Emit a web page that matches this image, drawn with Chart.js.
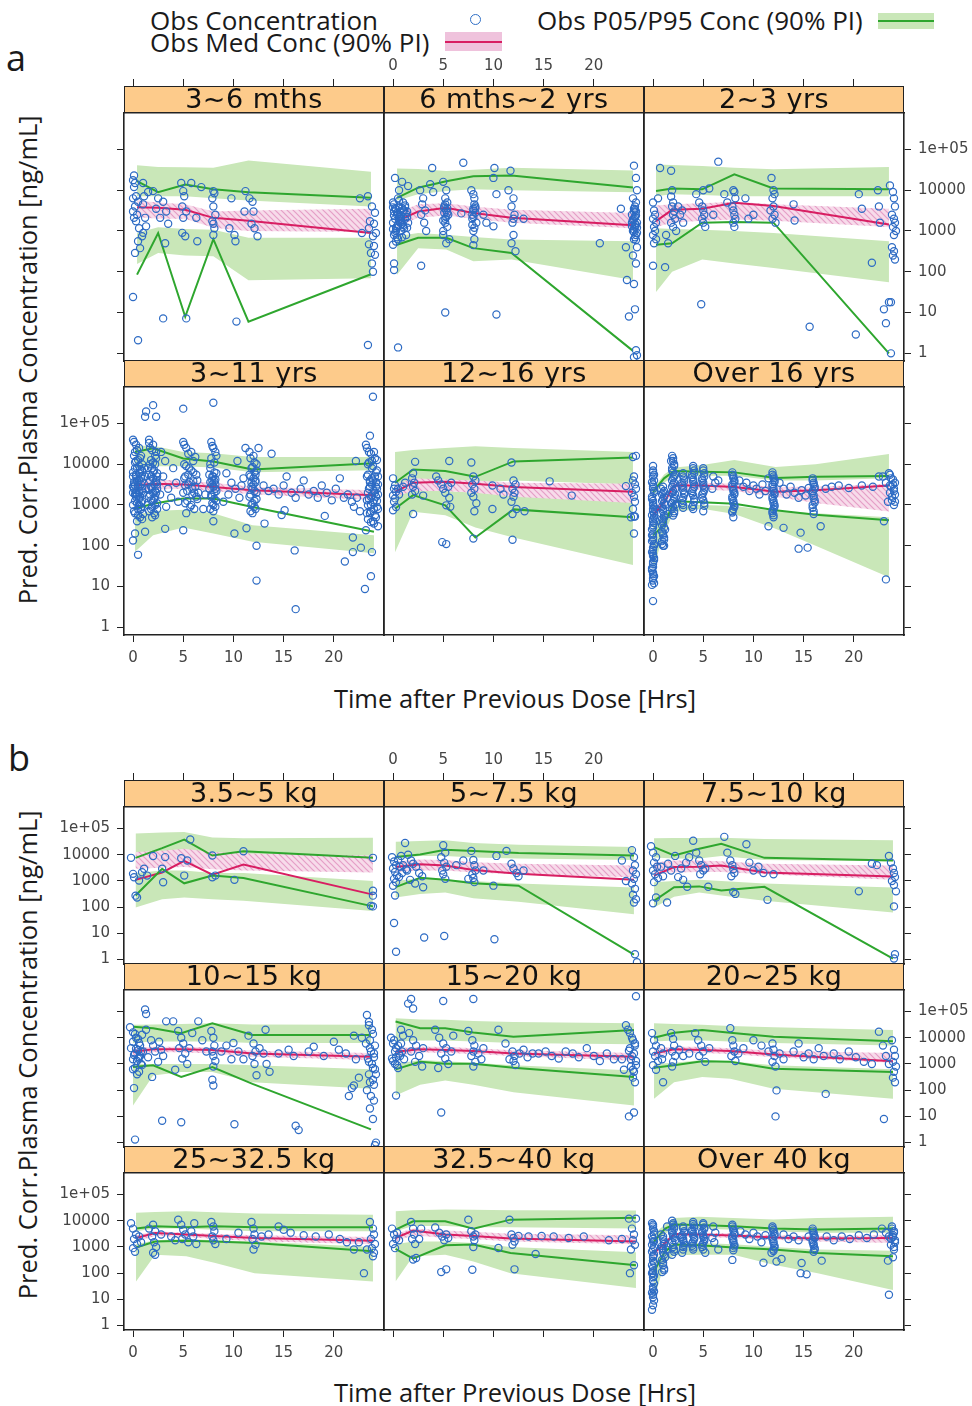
<!DOCTYPE html>
<html>
<head>
<meta charset="utf-8">
<script src="https://cdn.jsdelivr.net/npm/chart.js@4.4.1/dist/chart.umd.min.js"></script>
<style>
  body { margin: 0; width: 972px; height: 1406px; position: relative; overflow: hidden; background: #fff; }
  canvas { position: absolute; }
  .strip { position: absolute; width: 260px; height: 27px; box-sizing: border-box; border: 1.5px solid #222;
           background: #fdcb8b; text-align: center; font: 27px "DejaVu Sans"; letter-spacing: 0.5px; line-height: 24px;
           color: #111; z-index: 2; white-space: nowrap; overflow: visible; }
  .lg { position: absolute; font: 26px "Open Sans"; line-height: 1; color: #1a1a1a; white-space: nowrap; }
  .ttl { position: absolute; font: 25.5px "Open Sans"; line-height: 1; color: #1a1a1a; text-align: center; white-space: nowrap; }
  .box { position: absolute; }
</style>
</head>
<body>

<div class="lg" style="left:150px;top:7px">Obs Concentration</div>
<div class="lg" style="left:150px;top:29px">Obs Med Conc (90% PI)</div>
<div class="lg" style="left:537px;top:7px">Obs P05/P95 Conc (90% PI)</div>
<div class="box" style="left:470px;top:14px;width:9px;height:9px;border:1.5px solid #2f6fc6;border-radius:50%"></div>
<div class="box" style="left:878px;top:13px;width:56px;height:16px;background:#c9e7b8"></div>
<div class="box" style="left:878px;top:20px;width:56px;height:2px;background:#2ea62e"></div>
<div class="box" style="left:445px;top:32px;width:57px;height:19px;background:#efc2dc"></div>
<div class="box" style="left:445px;top:41px;width:57px;height:2px;background:#d81e62"></div>

<div class="ttl" style="left:6px;top:40px;font-size:36px">a</div>
<div class="ttl" style="left:8px;top:740px;font-size:36px">b</div>
<div class="ttl" style="left:0;width:1030px;top:686px">Time after Previous Dose [Hrs]</div>
<div class="ttl" style="left:0;width:1030px;top:1380px">Time after Previous Dose [Hrs]</div>
<div class="ttl" style="left:-272px;top:347px;width:600px;transform:rotate(-90deg)">Pred. Corr.Plasma Concentration [ng/mL]</div>
<div class="ttl" style="left:-272px;top:1042px;width:600px;transform:rotate(-90deg)">Pred. Corr.Plasma Concentration [ng/mL]</div>

<script>
// panels: a = age groups (2x3), b = weight groups (3x3)
const panelLabels = ['3~6 mths', '6 mths~2 yrs', '2~3 yrs', '3~11 yrs', '12~16 yrs', 'Over 16 yrs',
  '3.5~5 kg', '5~7.5 kg', '7.5~10 kg', '10~15 kg', '15~20 kg', '20~25 kg', '25~32.5 kg', '32.5~40 kg', 'Over 40 kg'];
const tickHours = [0, 5, 10, 15, 20];
const tickConc = [1, 10, 100, 1000, 10000, 100000];

// time bins for the percentile lines and bands
const binTimes = [
  [0.4, 2.5, 5.2, 8, 11.5, 23.7],
  [0.4, 2.5, 5.3, 8, 11.8, 23.9],
  [0.3, 1.9, 4.9, 8.1, 12, 23.5],
  [0.2, 2, 5, 8, 11.9, 24],
  [0.2, 2, 5.2, 8.2, 12, 23.9],
  [0, 1.1, 2.1, 4.9, 8.1, 12.2, 16.2, 23.5],
  [0.25, 2.9, 5.1, 7.9, 11, 23.9],
  [0.25, 2.7, 5.2, 8, 12.5, 24],
  [0.1, 2.1, 4.6, 6.8, 11.1, 23.9],
  [0, 2, 4.8, 7.9, 11.9, 23.7],
  [0.25, 2.7, 5.2, 8, 12, 24],
  [0.1, 2.1, 4.9, 7.7, 12, 23.9],
  [0.3, 2.2, 5.3, 8.1, 12.1, 23.9],
  [0.25, 2, 5.2, 8, 11.7, 24.2],
  [0.1, 1.2, 2.1, 4.6, 8, 12, 16.4, 23.9]
];

// observed percentiles (ng/mL)
const p95 = [
  [16600, 8900, 13800, 10500, 8900, 6500],
  [6500, 11500, 16600, 21900, 22900, 11700],
  [9500, 11000, 10500, 24500, 11000, 10500],
  [20000, 24500, 13800, 11700, 7400, 10500],
  [3500, 7400, 6800, 4900, 11700, 14500],
  [2100, 4500, 6800, 6500, 6300, 4600, 4900, 5100],
  [7600, 17800, 38000, 9300, 13500, 7600],
  [8100, 10200, 15500, 13800, 11500, 9300],
  [19500, 9300, 17000, 26300, 7600, 6000],
  [26300, 22900, 14800, 35500, 12600, 12600],
  [41700, 22900, 22900, 15800, 11000, 19500],
  [10000, 15500, 19500, 15500, 11000, 7400],
  [5000, 6200, 5600, 6200, 5600, 5600],
  [4600, 9500, 9500, 5000, 11000, 12900],
  [1600, 5000, 7100, 6800, 6200, 5000, 4600, 5000]
];
const med = [
  [3800, 3700, 3300, 2100, 1780, 890],
  [1740, 3000, 3700, 2750, 2100, 1380],
  [1740, 3300, 3500, 4900, 4100, 1450],
  [3000, 3300, 3200, 2750, 2300, 1740],
  [2100, 3500, 3700, 3300, 2750, 2100],
  [560, 1170, 3000, 3000, 2750, 2100, 2300, 3000],
  [1100, 2100, 5800, 1740, 4200, 300],
  [3400, 4300, 3900, 2600, 1860, 1100],
  [1600, 3400, 3500, 3900, 2100, 1480],
  [2900, 3600, 3600, 3400, 2500, 1860],
  [2900, 3600, 3400, 3100, 2500, 1860],
  [2500, 3600, 3400, 3100, 2300, 1260],
  [2200, 3400, 3000, 2600, 2200, 1740],
  [2200, 4200, 3000, 2600, 2100, 1600],
  [590, 1400, 3100, 3000, 2750, 2300, 2100, 2200]
];
const p05 = [
  [85, 890, 7.9, 630, 6, 87],
  [460, 680, 680, 380, 290, 1.15],
  [460, 500, 1600, 1660, 1600, 1],
  [810, 1070, 1450, 1450, 890, 220],
  [810, 1740, 980, 160, 780, 500],
  [180, 320, 1230, 1170, 1070, 740, 580, 420],
  [280, 2900, 810, 1600, 1300, 107],
  [580, 1320, 1100, 810, 660, 1.55],
  [174, 580, 620, 430, 600, 1.1],
  [760, 890, 320, 760, 174, 3.2],
  [620, 1200, 1020, 1020, 710, 320],
  [710, 890, 1260, 1200, 660, 490],
  [950, 1600, 1740, 1600, 1400, 680],
  [850, 355, 1150, 1230, 590, 200],
  [117, 680, 1230, 1150, 950, 800, 590, 440]
];

// 90% prediction intervals of each percentile
const p95Lo = [
  [7100, 7100, 7100, 6300, 5600, 4000],
  [5600, 7900, 9500, 10500, 10000, 8900],
  [7100, 7900, 7600, 7100, 7100, 7100],
  [7900, 8900, 8900, 8300, 6300, 7100],
  [3200, 4000, 4000, 3500, 4000, 3200],
  [1600, 3500, 5000, 5200, 5200, 4000, 4000, 4500],
  [3200, 4000, 4000, 4000, 3500, 2500],
  [7100, 8900, 8900, 7900, 7100, 6300],
  [7900, 7100, 7100, 8900, 6300, 5600],
  [6300, 7100, 7100, 7100, 6300, 6300],
  [7100, 7900, 7900, 7100, 6300, 5600],
  [7100, 7900, 7900, 7100, 6300, 5000],
  [4000, 5000, 5000, 4500, 4000, 4000],
  [4000, 6300, 6300, 5600, 5600, 5000],
  [1260, 3200, 5000, 5000, 4500, 4000, 3500, 3500]
];
const p95Hi = [
  [40700, 37200, 36300, 35500, 53700, 28200],
  [33900, 33100, 29500, 31600, 35500, 30200],
  [42700, 41700, 38900, 35500, 32400, 37200],
  [28200, 28200, 20000, 18600, 15100, 15100],
  [20000, 22400, 25100, 27500, 25100, 20000],
  [2500, 5600, 8300, 9500, 12600, 8500, 10000, 17800],
  [65000, 71000, 74000, 45000, 42000, 44000],
  [31000, 33000, 35500, 28200, 24000, 19500],
  [42000, 43000, 43000, 44000, 40000, 35500],
  [31000, 31600, 33000, 35500, 31600, 31000],
  [55000, 50000, 48000, 43000, 40000, 35500],
  [35500, 33000, 31000, 28200, 25100, 19500],
  [20000, 21400, 22900, 20900, 19000, 17000],
  [22900, 25100, 26900, 26300, 25100, 24500],
  [3200, 7100, 12600, 14100, 12600, 11200, 12600, 14100]
];
const medLo = [
  [2200, 2000, 2000, 1200, 1000, 950],
  [1260, 2100, 2400, 2000, 1600, 1170],
  [1260, 1600, 1780, 1900, 1780, 1260],
  [2100, 2400, 2500, 2200, 1820, 1320],
  [1600, 2200, 2200, 2000, 1600, 1120],
  [450, 890, 2300, 2400, 2200, 1600, 1120, 690],
  [2900, 3200, 3400, 2800, 2500, 2100],
  [2200, 2500, 2500, 2100, 1780, 1380],
  [2000, 2100, 2200, 2200, 1780, 1100],
  [2000, 2800, 2800, 2500, 1900, 1400],
  [2000, 2800, 2600, 2400, 2000, 1320],
  [1780, 2800, 2600, 2400, 1780, 1120],
  [1600, 2600, 2400, 2000, 1660, 1260],
  [1600, 2800, 2200, 2000, 1600, 1260],
  [400, 1000, 2500, 2400, 2200, 1900, 1600, 1400]
];
const medHi = [
  [5600, 5000, 4500, 3000, 3200, 3500],
  [2800, 4500, 4800, 4000, 3300, 2750],
  [4200, 4500, 4800, 5200, 4500, 3500],
  [3800, 4200, 4000, 3500, 2800, 2300],
  [3200, 4500, 4200, 4000, 3500, 3300],
  [710, 1600, 3700, 3500, 3300, 2750, 2800, 3300],
  [12600, 14100, 17000, 12600, 11200, 9300],
  [5600, 6500, 6300, 5200, 4500, 3900],
  [5000, 6000, 6000, 5600, 4500, 3900],
  [4000, 4500, 4500, 4200, 3200, 2600],
  [4000, 4500, 4500, 4000, 3300, 2600],
  [4000, 4500, 4500, 4000, 3200, 2600],
  [2800, 4000, 3500, 3200, 2800, 2400],
  [3200, 5000, 4200, 3800, 3200, 2800],
  [800, 1780, 3500, 3500, 3300, 2800, 2600, 2800]
];
const p05Lo = [
  [155, 290, 250, 240, 62, 69],
  [85, 380, 350, 180, 200, 63],
  [32, 100, 200, 160, 123, 55],
  [71, 180, 280, 200, 126, 66],
  [69, 680, 560, 280, 160, 34],
  [27, 200, 680, 810, 600, 260, 100, 17],
  [98, 200, 235, 200, 174, 72],
  [235, 320, 360, 220, 160, 54],
  [98, 250, 360, 280, 174, 62],
  [26, 360, 490, 490, 200, 112],
  [62, 160, 235, 160, 83, 26],
  [47, 200, 320, 275, 112, 47],
  [48, 500, 440, 250, 100, 48],
  [48, 440, 500, 280, 100, 27],
  [11, 260, 480, 500, 500, 210, 100, 23]
];
const p05Hi = [
  [890, 1230, 1120, 1070, 680, 680],
  [740, 890, 810, 710, 620, 560],
  [1170, 1120, 1070, 1000, 890, 560],
  [560, 710, 760, 630, 320, 180],
  [2000, 2200, 2200, 2000, 1780, 1600],
  [320, 560, 1000, 1000, 950, 710, 630, 500],
  [2000, 2500, 2500, 2000, 2000, 1000],
  [1000, 1260, 1120, 1000, 800, 560],
  [890, 1000, 1120, 1000, 800, 560],
  [1000, 1000, 1000, 1000, 890, 630],
  [1000, 1400, 1260, 1120, 890, 560],
  [1000, 1120, 1400, 1260, 890, 630],
  [1260, 1780, 2000, 1780, 1600, 1000],
  [1260, 1600, 1600, 1400, 1000, 630],
  [250, 890, 1400, 1400, 1260, 1000, 800, 710]
];

// observed concentrations [hours, ng/mL]
const obsA1 = [[0.1,23000],[0,17600],[0.2,15000],[0.1,11900],[0.3,7100],[0,6300],[0.5,5200],[0.2,4000],[0,3000],[0.4,2500],[0.1,2100],[0.3,1740],[0.6,1170],[0.9,740],[0.5,560],[0.7,380],[0.2,290],[0,24],[0.5,2.1],[1,15000],[1.1,7100],[1,4500],[1.2,2100],[1.3,1300],[1,900],[1.5,9000],
  [2,9500],[2.5,6300],[3,5200],[2.3,3500],[3.3,3000],[2.7,2100],[3.5,1500],[3.2,500],[3,7.2],
  [4.8,15000],[5,9500],[5.1,7100],[4.9,4000],[5.3,3000],[5,2100],[4.9,900],[5.2,740],[5.3,7.2],[5.8,15000],[6.3,2100],[6.8,11900],[6.4,560],
  [8,9500],[8.1,8400],[7.9,6300],[8,4000],[8.2,2500],[7.9,1740],[8,1500],[8.1,1170],[8,800],
  [9.8,6300],[9.6,1170],[10.1,800],[10.2,560],[10.3,6],
  [11.2,9500],[11.1,3000],[11.6,6300],[11.9,5200],[12,3000],[11.8,1500],[12.1,1170],[12.4,740],
  [22.6,6300],[23.4,7100],[23.6,1740],[22.8,890],[23.8,4000],[24.1,2800],[24,1500],[23.5,1170],[24.2,890],[23.9,740],[23.5,470],[24,430],[23.7,290],[24.1,260],[23.8,160],[23.9,100],[23.4,1.6]];
const obsA2 = [[0,5000],[0.1,3000],[0.2,2000],[0,1600],[0.3,1200],[0.1,800],[0,460],[0.5,6300],[0.6,4000],[0.4,2500],[0.7,1600],[0.8,1000],[0.5,630],[1,5000],[1.1,3200],[1.2,2000],[1,1260],[1.3,800],[1.4,3000],[1.5,1600],
  [0.2,3600],[0.4,2800],[0.6,2200],[0.8,1800],[1,1400],[0.3,1000],[0.9,700],[0.1,2400],[1.2,3800],[0.7,3000],[0.5,1400],[1.4,2200],[0,1100],[0.4,700],
  [0.1,4500],[0.3,3400],[0.5,2600],[0.7,2000],[0.9,1500],[1.1,1150],[0.2,900],[0.4,1300],[0.6,1800],[0.8,2400],[1,3200],[1.2,4200],[1.4,1200],[0,3800],[0.3,550],[0.6,5500],[1.3,2600],[0.9,3600],
  [0.2,20000],[0.9,16000],[1.5,12600],[0.6,10000],[0.1,160],[0.1,110],[0.5,1.4],[2.8,140],
  [2.7,10000],[3,6300],[2.9,4500],[3.2,3200],[2.8,2500],[3.1,1600],[3.3,1000],[3.7,14000],[4,9000],[3.9,35000],
  [5,16000],[5.3,10000],[5.2,6300],[5.4,5000],[5.1,4000],[5.3,3200],[5.5,2500],[5.2,2000],[5.4,1260],[5,800],[5.6,630],[5.3,500],[5.2,10],[5.1,3600],[5.4,2800],[5.2,1600],[5,1000],
  [5.2,4500],[5.4,3600],[5.1,2800],[5.3,2200],[5,1800],[7,47000],[6.8,2700],
  [7.8,10000],[8,8000],[8.1,6300],[8.2,4000],[8,3200],[7.9,2500],[8.3,1600],[8,1000],[8.1,630],[8,450],[8.2,3600],[8,2200],[7.9,1400],
  [8.1,4500],[8,3500],[8.2,2800],[7.9,2000],[8.1,1200],
  [10.1,35000],[10,20000],[9,2500],[9.3,1600],[10.3,8000],[10,1300],[10.3,9],
  [11.7,30000],[11.5,10000],[12,6300],[11.8,4000],[12.1,2500],[12,2000],[11.9,1600],[12,800],[11.8,500],[12.2,320],[13,2000],
  [20.6,500],[22.7,3500],[23.2,400],[23.3,63],[23.5,8],[24,40000],[24.2,20000],[24.3,10000],[23.9,6300],[24.1,4000],[24.2,3000],[23.8,2500],[24,2000],[24.3,1600],[24.1,1260],[23.9,1000],[24.2,800],[24,630],[24.3,400],[23.9,250],[24.2,160],[24,50],[24.1,12],[24.2,1.2],[24.3,0.9],[24,0.8],
  [24.1,2200],[23.9,1800],[24.2,1400],[24,1100],[24.3,900],[23.8,1300],[24.1,700],[24,3500],[24.2,5000],
  [24,3000],[24.2,2400],[23.9,1900],[24.1,1500],[24.3,1200],[24,950],[23.8,1600],[24.2,600],[24.1,3300]];
const obsA3 = [[0,5000],[0.1,3200],[0.2,2500],[0,2000],[0.3,1600],[0.1,1260],[0.2,1000],[0,800],[0.3,630],[0.1,500],[0,140],[0.5,6300],[0.7,35000],[1.2,130],[1.3,800],[1.5,500],
  [1.8,30000],[1.9,10000],[1.8,7000],[2,5000],[1.9,4000],[2.1,3000],[2,2500],[2.2,2000],[1.8,1600],[2,1260],[2.3,1000],[2.5,4000],[2.7,2500],[2.9,3200],[3,1600],
  [4.3,8000],[4.6,5000],[4.9,4000],[5,3200],[5.1,2500],[4.9,2000],[5,1600],[5.2,1260],[5,10000],[4.8,16],[5.6,11000],[6,2500],[6.5,50000],
  [7.1,8000],[7.4,5000],[8,10000],[8.1,9000],[8.2,6300],[7.9,4000],[8,3200],[8.1,2500],[8.2,2000],[8,1600],[8.1,1260],[9.2,6300],[9.5,2000],[10,2500],
  [11.8,20000],[12,10000],[12.1,8000],[11.9,6300],[12,4000],[11.7,3200],[12.1,2500],[11.9,2000],[12.2,1600],[14,4500],[14.1,1800],[15.6,4.5],
  [20.5,8000],[20.8,3500],[21.8,166],[20.2,2.9],[22.4,10000],[22.5,4000],[22.6,1600],[23,12],[23.2,5.5],[23.5,18],[23.7,18],[23.6,13000],[23.7,1],[23.9,9000],[24,6300],[24.1,4000],[23.8,2500],[24,2000],[24.1,1600],[23.9,1260],[24.2,1000],[24,800],[23.8,400],[24,320],[23.9,250],[24.1,200]];
const obsA4 = [[0,40000],[0.3,30000],[0.6,25000],[0.1,16000],[0.5,12600],[0.9,10000],[0.2,8000],[0.7,6300],[0,5000],[0.4,4000],[0.8,3200],[0.1,2500],[0.6,2000],[0.3,1600],[0.9,1260],[0,1000],[0.5,800],[0.2,630],[0.7,500],[0.4,400],[0.1,3200],[0.8,5000],[0.3,2000],[0.6,1000],
  [0.2,20000],[0.8,16000],[0.4,8000],[0,6300],[0.6,4000],[0.9,2500],[0.2,1260],[0.7,1600],[0.5,3200],[0,2000],[0.8,800],[0.3,5000],[1,2000],[1.1,8000],[1,600],
  [0.1,35000],[0.4,22000],[0.7,14000],[0.2,11000],[0.6,9000],[0.9,7000],[0.3,5500],[0.8,4500],[0.1,3600],[0.5,2800],[0.9,2200],[0.2,1800],[0.6,1400],[0.4,1100],[0.8,900],[0.1,700],[0.5,560],[0.9,450],[0.3,12000],[0.7,7500],[0,2800],[0.4,1800],[0.8,1150],[0.2,3000],[0.6,6000],[0.9,3800],
  [1.6,40000],[2,30000],[2.3,20000],[1.8,12600],[2.2,10000],[1.5,8000],[2,6300],[2.4,5000],[1.7,4000],[2.1,3200],[1.9,2500],[2.3,2000],[1.6,1600],[2,1260],[2.2,1000],[1.8,800],[2.1,630],[1.9,500],[1.3,2500],[1.2,5000],
  [1.7,25000],[2.2,16000],[1.9,8000],[2.4,3200],[1.6,2500],[2.2,1600],[1.8,1300],[2.4,800],[2,2000],[1.5,1000],[2.3,4000],
  [1.6,33000],[1.9,22000],[2.3,14000],[1.7,10000],[2.1,7000],[2.4,6000],[1.6,5500],[2,4500],[2.3,3600],[1.8,2800],[2.2,2200],[1.7,1800],[2.1,1400],[2.4,1100],[1.9,900],[1.6,700],[2.2,560],[2,11000],[1.8,5000],[2.4,2500],
  [2.8,20000],[3.2,12000],[3,5000],[3.5,2500],[3.8,1500],[4,8000],[4.3,3500],[3.3,900],[4.5,1200],[2.7,1800],
  [5,35000],[5.3,25000],[5.8,20000],[6.2,15000],[5.1,10000],[5.6,8000],[6,6300],[5.2,5000],[6.4,4000],[5.5,3200],[5.9,2500],[5,2000],[6.3,1600],[5.4,1260],[5.8,1000],[6.1,800],[5.3,630],[6.5,2000],
  [5.1,30000],[5.5,18000],[6,12000],[5.3,9000],[5.8,7000],[6.3,5500],[5.1,4500],[5.6,3600],[6.2,2800],[5.4,2200],[5.9,1800],[6.4,1400],[5.2,1100],[5.7,900],[6,3800],[5.5,5500],[6.1,2000],[5.2,3000],
  [7.8,35000],[8,25000],[8.3,16000],[7.7,10000],[8.1,6300],[8,5000],[7.9,4000],[8.2,3200],[7.6,2500],[8.1,2000],[7.8,1600],[8.3,1260],[8,1000],[7.7,800],[8.2,2500],[7.9,3200],[7.2,1800],[7,800],
  [7.9,28000],[8.2,20000],[7.8,14000],[8.1,11000],[7.7,8000],[8.3,6000],[7.9,5000],[8.2,4200],[7.7,3600],[8,2800],[8.3,2200],[7.8,1800],[8.1,1400],[7.9,1100],[8.2,900],[8,700],[7.6,5500],[8.1,3800],
  [9.3,6000],[9.8,3500],[10.2,2500],[10.6,1500],[9.5,1800],[11,4500],[10.4,12000],[11.2,25000],[9,1200],[10.8,3000],
  [11.6,20000],[12,16000],[12.3,10000],[11.8,8000],[12.1,6300],[11.7,5000],[12.2,4000],[12,3200],[11.9,2500],[12.3,2000],[11.6,1600],[12.1,1260],[11.8,1000],[12.2,800],[11.9,630],[12.5,25000],
  [11.7,14000],[12.1,11000],[11.9,8500],[12.3,7000],[11.6,5500],[12,4500],[12.2,3600],[11.8,2800],[12.1,2200],[11.7,1800],[12.3,1400],[11.9,1100],[12.1,900],[11.7,700],[12.2,5500],[11.8,3500],
  [13,3000],[13.5,2200],[13.8,18000],[14,2500],[14.5,1800],[15,3000],[15.3,5000],[15.8,2000],[16.2,1500],[16.7,2500],[17,4000],[17.5,1800],[18,2200],[18.4,1500],[18.8,3000],[19.3,2000],[19.8,1300],[20.2,2500],[20.6,4500],[21,1500],[21.4,1800],[21.8,1200],[22,900],[22.3,1500],[22.6,700],[22.2,12000],
  [23.2,30000],[23.6,50000],[24,20000],[24.3,12600],[23.4,10000],[23.8,8000],[24.2,6300],[23.3,5000],[23.9,4000],[24.4,3200],[23.5,2500],[24.1,2000],[23.7,1600],[24.3,1260],[23.4,1000],[24,800],[23.6,630],[24.2,500],[23.9,400],[24.4,300],
  [23.5,20000],[23.8,3200],[24.2,1600],[23.4,2000],[24,1300],[23.7,1000],[24.4,800],[23.3,630],[24.1,5000],[23.6,4000],[24.3,2500],[23.8,12000],
  [23.3,25000],[23.7,18000],[24.1,14000],[23.5,11000],[23.9,9000],[24.3,7000],[23.4,5500],[23.8,4500],[24.2,3600],[23.6,2800],[24,2200],[24.4,1800],[23.5,1400],[23.9,1150],[24.3,900],[23.7,700],[24.1,560],[23.4,450],[24,350],[23.6,3600],[24.2,2800],[23.8,1700],[24.4,5000],[23.3,1300],
  [1.2,145000],[1.3,195000],[2,280000],[2.3,145000],[5,230000],[8,320000],[23.9,450000],[0.5,60],[0,135],[0.2,200],[1.2,220],[3.2,260],[5,240],[8,400],[10.1,200],[11.3,270],[12.3,100],[12.3,14],[13.1,350],[16.1,77],[16.2,2.8],[19.1,540],[21.1,41],[21.9,160],[21.9,70],[22.7,90],[23.1,8.7],[23.7,18],[23.8,70],[23.7,380],[23.2,240],[14.8,570],[15.1,740]];
const obsA5 = [[0,4500],[0.2,3000],[0.1,2500],[0.3,2100],[0,1700],[0.2,1450],[0.1,1200],[0.3,890],[0,740],[0.5,2500],[0.6,1800],[1,2800],[1.2,3500],
  [2.2,11400],[2,6000],[1.9,4500],[2.1,3500],[2,2800],[2.2,2200],[1.9,1800],[2,600],[3,1700],
  [4.3,5000],[4.5,4000],[4.8,3200],[5,2500],[5.2,2000],[5.5,2800],[5.8,3500],[5.6,1500],[5.3,980],[5.7,900],[5.6,12000],[4.9,123],[5.3,110],
  [7.8,11000],[8,5000],[8.2,4000],[7.9,3200],[8.1,2500],[7.8,2000],[8,1600],[8.3,1100],[8.1,700],[8,150],[9.9,3000],[9.9,800],[10.7,2500],[11,1800],
  [11.8,11000],[12,4000],[12.2,3200],[11.9,2500],[12.1,2000],[12,1600],[11.8,1200],[12.3,800],[11.9,600],[13.1,700],[11.9,140],[15.6,3800],[17.8,1700],
  [23.2,2900],[23.9,15000],[24.2,16000],[24,5000],[23.9,4000],[24.1,3200],[24.2,2500],[23.8,2000],[24,1600],[24.1,1200],[23.9,800],[24,520],[24.1,520],[23.7,500],[24,200]];
const obsA6 = [[0,9000],[0,6300],[0.1,4000],[0,2500],[-0.1,1600],[0,1000],[0.1,630],[0,400],[-0.1,250],[0,160],[0.1,100],[0,63],[0,40],[-0.1,25],[0,16],[0.1,12],[0,5000],[0,3200],[0.1,2000],[0,1260],[0,800],[0.1,500],[0,320],[0,200],[-0.1,130],[0,80],[0.1,50],[0,30],[0,20],[0,4.4],
  [0,7000],[0.1,5500],[-0.1,3600],[0,2800],[0.1,2200],[-0.1,1400],[0,1100],[0.1,900],[0,700],[-0.1,560],[0,450],[0.1,360],[0,280],[-0.1,180],[0,140],[0.1,110],[0,90],[-0.1,70],[0,56],[0.1,45],[0,36],[-0.1,28],[0,22],[0.1,18],[0,14],[-0.1,11],
  [0.8,2500],[1,2000],[1.1,1600],[0.9,1260],[1.2,1000],[1,800],[0.8,630],[1.1,500],[1,400],[0.9,320],[1.2,250],[1,200],[1.1,160],[0.9,130],[1,100],[1.4,1500],[1.5,600],
  [1,2800],[1.1,2200],[0.9,1800],[1,1400],[1.1,1100],[0.9,900],[1,700],[1.1,560],[0.9,450],[1,360],[1.1,280],[0.9,220],[1,180],[1.1,140],[0.9,110],
  [1.9,16000],[2,12000],[2.1,9000],[1.9,7000],[2.2,5500],[2,4500],[2.1,3500],[1.9,2800],[2,2200],[2.2,1800],[2.1,1400],[1.9,1100],[2,900],[2.1,700],[2,550],[1.8,12000],
  [2,14000],[2.1,10000],[1.9,8000],[2,6300],[2.1,5000],[1.9,4000],[2,3200],[2.2,2500],[1.9,2000],[2.1,1600],[2,1250],[2.2,1000],[1.9,800],[2.1,630],
  [3,6000],[3.1,4500],[2.9,3500],[3,2700],[3.1,2000],[3,1500],[2.9,1100],[3,850],[3,5000],[3.1,3800],[2.9,3000],[3,2300],[3.1,1800],[2.9,1300],[3,1000],
  [4,9000],[4.1,7000],[3.9,5500],[4,4200],[4.1,3200],[4,2500],[3.9,1900],[4.1,1400],[4,1000],[4,800],
  [4,8000],[4.1,6000],[3.9,4800],[4,3700],[4.1,2800],[3.9,2200],[4,1700],[4.1,1200],[3.9,900],
  [5,8000],[5.1,6000],[4.9,4500],[5,3500],[5.1,2700],[5,2000],[4.9,1500],[5.1,1100],[5,700],
  [5,7000],[5.1,5000],[4.9,4000],[5,3000],[5.1,2300],[4.9,1800],[5,1300],[5.1,950],
  [6,5000],[6.2,3500],[5.9,2500],[6.5,4000],
  [7.9,6300],[8,5000],[8.1,4000],[7.9,3200],[8,2500],[8.1,2000],[7.9,1600],[8,1260],[8.1,1000],[8,800],[7.9,650],[8,500],
  [7.9,5500],[8,4500],[8.1,3600],[7.9,2800],[8,2200],[8.1,1800],[7.9,1400],[8,1100],[8.1,900],[7.9,700],
  [8.6,4000],[9,2800],[9.3,3500],[9.6,2200],[10,3000],[10.3,2500],[10.6,1800],[10.9,3200],[11.2,2200],[11.5,4500],
  [11.9,6300],[12,5000],[12.1,4000],[11.9,3200],[12,2500],[12.1,2000],[11.9,1600],[12,1260],[12.1,1000],[12,800],[11.9,630],[12,500],
  [11.9,5500],[12,4500],[12.1,3600],[11.9,2800],[12,2200],[12.1,1800],[11.9,1400],[12,1100],[12.1,900],[11.9,700],[12,560],
  [12.6,3500],[13,2500],[13.3,1800],[13.7,2800],[14.1,2000],[14.5,1500],[14.8,2300],[15.2,1700],[15.5,2600],
  [15.9,4500],[16,3500],[16.1,2800],[15.9,2200],[16,1700],[16.1,1300],[15.9,1000],[16,700],
  [15.9,4000],[16,3200],[16.1,2500],[15.9,2000],[16,1500],[16.1,1150],[15.9,850],[16,600],
  [17.2,2500],[17.8,2800],[18.5,3000],[19.5,2600],[20.8,3000],[21.9,2800],[22.5,5000],
  [22.9,5000],[23.2,3500],[23.5,6000],[23.7,4500],[23.9,3200],[24,2500],[23.6,2000],[24.1,1800],[23.8,1300],[24,1000],[23.4,1200],
  [23.6,5500],[23.9,4200],[24.1,3500],[23.7,2800],[24,2200],[23.8,1600],[24.1,1200],[23.6,3000],
  [11.5,300],[13,275],[14.7,210],[14.5,85],[15.4,90],[16.7,300],[23,400],[23.2,15],[1.1,100]];
const obsB1 = [[-0.2,7600],[0,1860],[0.1,1380],[0.25,275],[0.4,235],[0.6,1030],[0.9,2150],[1.1,2900],[1.4,1600],[2,8900],[2.9,2900],[3,890],[3.2,8100],[4.8,7400],[5.1,1600],[5.4,6000],[5.7,38000],[7.9,9300],[7.9,1380],[8.2,1600],[10.1,1100],[11,13500],[23.9,7600],[23.9,425],[23.9,275],[23.9,107],[23.7,112]];
const obsB2 = [[-0.1,8000],[0.1,5500],[0.3,4000],[0,3000],[0.2,2200],[0.4,1600],[0.1,1200],[0.3,900],[0,650],[0.2,280],[0.1,25],[0.3,2],[0.5,6300],[0.7,3500],[0.9,2000],[0.6,1400],[1,4000],[1.3,2800],[0.8,9000],
  [1.2,28000],[1.5,10000],[1.8,6000],[2,4500],[2.3,3500],[1.4,2500],[2.6,2000],[2.9,1500],[1.7,1100],[2.2,800],[3,575],[3.1,7],
  [5,23000],[5.2,12000],[4.8,8000],[5.1,5000],[5.3,3500],[4.9,2500],[5,1800],[5.2,1200],[5.1,8],
  [6.3,4000],[7,6000],[7.5,1200],[7.8,14000],[8,6300],[8.1,4000],[8.2,2500],[7.9,1800],[8,1300],[8.1,900],[9,2500],[10,660],[10.1,6],[10.3,9000],
  [11.3,14000],[11.8,4500],[12,3000],[12.3,2000],[12.5,1500],[13,2500],
  [22.8,6000],[23.2,1000],[23.8,15000],[24,8000],[24.1,4000],[23.9,2500],[24.2,1800],[24,1200],[23.8,800],[24.1,500],[23.9,300],[24.2,200],[24,150],[24.1,1.6],[24.3,0.8]];
const obsB3 = [[-0.2,21000],[0,12000],[0.3,8000],[0.1,5000],[0.4,3500],[0,2500],[0.2,1800],[0.5,1300],[0.1,900],[0.3,235],[0,140],[0.8,3500],[1,1500],
  [1.5,4500],[1.8,2500],[2.2,9000],[2.5,1400],[2.8,3000],[3,1100],[3.3,5000],[3.6,8000],[1.4,150],[3.4,600],
  [4,34000],[4.3,12000],[4.6,6000],[4.8,4000],[5,2500],[4.7,1800],[5.2,3000],[5.5,600],
  [7.1,48000],[7.4,12000],[7.7,6000],[7.9,4000],[8,2800],[8.1,2000],[7.8,1500],[8,380],[8.2,320],
  [9.3,25000],[9.6,5000],[10,2500],[10.5,3500],[11,2000],[11.4,190],[12,1800],
  [20.5,400],[21.8,4500],[22.3,4000],[23.5,9000],[23.7,5000],[23.9,3000],[24,2000],[24.1,1400],[23.8,1000],[24,700],[24.2,400],[24,107],[24.1,1.6],[24,1.1]];
const obsB4 = [[-0.3,25000],[0,16000],[0.3,10000],[0.6,6300],[-0.2,4000],[0.2,2500],[0.5,1600],[0.8,1000],[0,630],[0.4,400],[0.1,120],[0.2,1.3],[0.9,13000],[1,3000],[0.7,2000],
  [0.2,14000],[0.5,9000],[0,7000],[0.7,5000],[0.3,3800],[0.8,3000],[0.1,2200],[0.6,1800],[0.4,1300],[0.9,900],[0.2,700],[0.6,500],[0,1500],[0.5,3300],
  [1.3,20000],[1.2,120000],[1.3,80000],[1.8,8000],[2,5000],[2.2,3000],[1.5,1800],[2.5,1200],[2.8,3500],[2.6,7000],[3,2000],[1.9,320],[2.9,6.8],[3.3,42000],
  [4,42000],[4.5,18000],[4.8,10000],[5,6000],[4.6,4000],[5.2,2500],[4.9,1600],[5.4,1000],[4.2,600],[4.8,6],[5.6,4000],[5.9,15000],
  [6.5,42000],[6.9,8000],[7.3,3000],[7.8,18000],[8,10000],[8.1,5000],[7.9,3000],[8,2000],[8.2,1300],[8,800],[7.9,250],[8,150],[8.8,3000],[9.3,5000],[9.8,1500],
  [10,6300],[10.5,3000],[11,1500],[11.5,12000],[12,6000],[12.2,3000],[11.9,2000],[12.1,1000],[12.3,370],[12.6,4000],[13,2500],[13.3,1000],[13.6,500],[10.1,5],[13.2,20000],
  [14.5,2500],[15.5,3500],[16,2000],[16.2,4.4],[16.5,3],[17.5,3000],[18,4500],[19,2000],[20,7000],[20.5,3500],[21.2,2500],[22,12000],[22.2,1500],
  [23.3,74000],[23.5,40000],[23.8,20000],[22.8,10000],[23.2,6000],[23.6,4000],[24,2500],[23.4,1600],[23.8,1000],[24.1,630],[23.5,400],[23.9,250],[24,160],[23.3,100],[23.7,60],[24,40],[23.6,20],[23.9,8],[24.2,1],[24.1,0.8],[22.5,300],[22,150],[21.5,60],[21.8,120],
  [23.5,30000],[23.9,14000],[23.6,8000],[24.1,5000],[23.7,3000],[24,1800],[23.5,1200],[23.9,700],[24.2,400],[23.6,200]];
const obsB5 = [[-0.2,10000],[0,6000],[0.3,4000],[0.6,2500],[-0.1,1600],[0.2,1000],[0.5,700],[0.3,62],[0.8,20000],[1,12000],[0.9,3000],[1.1,1500],
  [0.1,8000],[0.5,5000],[0.2,3000],[0.7,2000],[0,1300],[0.4,900],[0.8,6000],[0.3,1800],
  [1.5,200000],[1.8,300000],[2,130000],[1.6,15000],[2,8000],[2.3,5000],[1.8,3000],[2.6,2000],[2.2,1200],[2.9,800],[3,4000],
  [5,250000],[4.2,20000],[4.6,10000],[5,6000],[5.3,4000],[4.8,2500],[5.2,1600],[5.5,1000],[4.5,700],[5.8,3000],[6,12000],
  [8,300000],[7.5,18000],[7.9,8000],[8.1,5000],[8,3000],[7.8,2000],[8.2,1200],[8,800],[8.5,2500],[9,4000],[8.8,1500],[4.8,14],
  [10.5,20000],[11.2,6000],[11.9,3000],[12.1,2000],[12,1300],[12.2,900],[12.6,2500],[13,3500],[13.4,1800],[13.9,2500],[11.6,1500],
  [14.5,2500],[15.2,3000],[15.8,2000],[16.5,1600],[17.2,3000],[17.9,2500],[18.5,1800],[19.3,4000],[20,2000],[20.6,1300],[21.3,2500],[22,1500],
  [23.2,30000],[23.6,15000],[23.9,8000],[24.1,5000],[23.5,3200],[23.8,2000],[24.2,1300],[23.7,800],[24,500],[23.9,300],[24.1,200],[23.5,10],[24,14],[24.2,380000],[22.8,1500],[23,600],
  [23.4,20000],[23.8,10000],[24.1,6000],[23.6,4000],[24,2500],[23.7,1500],[24.2,900],[23.9,600]];
const obsB6 = [[-0.1,15000],[0.1,8000],[0.3,5000],[0,3000],[0.2,2000],[0.5,1300],[0,900],[0.3,600],[0.8,4000],[1,2500],[0.9,1500],[1,200],
  [1.8,15000],[2,9000],[2.1,5000],[1.9,3000],[2.2,2000],[2,1200],[1.9,800],[2.6,3500],[3,2000],
  [4.2,15000],[4.5,8000],[4.8,5000],[5,3000],[4.6,2000],[5.2,1200],[5.6,4000],[3.6,2500],
  [7.7,23000],[7.9,8000],[8,5000],[8.1,3000],[7.8,2000],[8.2,1300],[8.5,2500],[9,4000],
  [10,8000],[10.8,5000],[11.5,3000],[11.9,6000],[12,3500],[12.1,2000],[11.9,1200],[12.2,800],[12.6,2500],[12.2,10],[12.3,98],[13,1500],
  [14,3000],[14.5,6000],[15,1800],[15.5,2500],[16,1500],[16.5,4000],[17.2,72],[17,2000],[18,2500],[18.6,1500],[19.5,3000],[20.2,1800],[21,1200],[21.8,1000],
  [22.5,17000],[22.9,5000],[23.2,2000],[23.5,1000],[23.8,8000],[24,3500],[24.1,2000],[23.9,1200],[24.2,800],[24,500],[23.9,300],[24.1,200],[23,8]];
const obsB7 = [[-0.2,8000],[0,5000],[0.3,3000],[0.1,2000],[0.4,1300],[0,900],[0.2,650],[0.6,2500],[0.8,1500],
  [1.6,5000],[2,7000],[2.2,4000],[1.9,2500],[2.1,1500],[2.3,1000],[2,600],[2.2,500],[2.8,3000],
  [4.5,11000],[4.8,7000],[5,4500],[5.2,3000],[4.9,2000],[5.5,1500],[5.8,4000],[6,2500],[6.3,1300],[6.1,8000],[3.8,2500],[4.2,1800],
  [7.8,9000],[8,6000],[8.1,4000],[7.9,2500],[8,1800],[8.2,1300],
  [9.3,2000],[10.5,3500],[11.8,9000],[12,5000],[12.1,3000],[11.9,2000],[12.2,1200],[12,800],[12.8,2500],[13.5,3000],
  [14.5,6000],[15,4500],[15.7,3500],[17,2800],[18.2,2500],[19.5,3000],[20.6,2000],[21.3,1500],[22,800],
  [23,100],[23.6,9000],[23.9,5000],[24,3000],[23.7,2000],[24.1,1300],[23.8,900],[24,600],[23.9,440],[22.5,1500],[23.3,800]];
const obsB8 = [[-0.1,5000],[0.1,3000],[0.3,2000],[0,1300],[0.2,900],[0.4,3500],[0.6,1800],
  [1.8,9000],[2,5000],[2.1,3000],[1.9,2000],[2.2,1300],[2,330],[2.3,380],[2.6,2000],[2.8,5000],
  [4.2,5500],[4.6,3500],[4.9,2500],[5.1,1800],[5.3,3000],[5.5,2200],[4.8,110],[5.3,140],
  [7.5,11000],[7.8,4000],[8,2500],[8.1,1800],[8.2,3000],[8,1000],[7.9,135],
  [10.5,910],[11.6,11000],[11.8,3000],[12,2200],[12.1,1600],[11.9,1200],[12.1,140],[12.5,2600],
  [13.5,2500],[14.2,540],[14.8,2600],[16,2500],[17.5,2200],[19,2500],[21.5,1800],
  [23.5,12000],[23.8,5000],[24,3000],[23.9,1800],[24.1,1200],[23.7,800],[24,200],[23.6,100],[24.2,12000],[22.8,2000]];
const obsB9 = [[-0.1,8000],[0,5000],[0.1,3000],[0,2000],[-0.1,1200],[0,800],[0.1,500],[0,300],[-0.1,200],[0,120],[0.1,80],[0,50],[0,30],[0.1,20],[0,15],[-0.1,4],[0,6000],[0.1,1600],[0,400],[0,100],
  [0,7000],[0.1,4000],[-0.1,2500],[0,1600],[0.1,1000],[-0.1,650],[0,450],[0.1,250],[0,160],[-0.1,100],[0,70],[0.1,40],[0,25],[-0.1,18],[0,12],[0.1,9],[0,6],
  [0.8,3000],[1,2000],[1.1,1300],[0.9,900],[1,600],[1.2,400],[1,250],[1.1,150],[0.9,110],[1.3,800],[1.4,6000],
  [1,2500],[1.1,1600],[0.9,1100],[1,800],[1.1,500],[0.9,320],[1,200],[1.1,130],
  [1.9,10000],[2,7000],[2.1,5000],[1.9,3500],[2,2500],[2.2,1800],[2,1200],[2.1,800],[1.9,500],
  [2,8000],[2.1,6000],[1.9,4200],[2,3000],[2.1,2200],[1.9,1500],[2,1000],[2.1,650],
  [3,6000],[3.1,4000],[2.9,2800],[3,2000],[3.1,1400],[3,1000],[2.9,600],[3,5000],[3.1,3500],[2.9,2400],[3,1700],[3.1,1200],[3,800],
  [4,9000],[4.1,6500],[3.9,4500],[4,3200],[4.1,2300],[4,1600],[3.9,1100],[4,800],[4,7500],[4.1,5500],[3.9,3800],[4,2700],[4.1,2000],[3.9,1350],[4,950],
  [5,8000],[5.1,5500],[4.9,4000],[5,2800],[5.1,2000],[5,1400],[4.9,1000],[5.2,600],[5,7000],[5.1,4800],[4.9,3400],[5,2400],[5.1,1700],[4.9,1200],[5,800],
  [6,6000],[6.2,3500],[5.9,2200],[6.1,1500],[6.5,800],
  [7.9,7000],[8,5000],[8.1,3500],[7.9,2500],[8,1800],[8.1,1200],[8,900],[7.9,320],[7.9,6000],[8,4200],[8.1,3000],[7.9,2100],[8,1500],[8.1,1050],[8,750],
  [8.7,4000],[9.2,3000],[9.6,2000],[10,3500],[10.4,2500],[10.8,1500],[11.2,2800],[11,250],
  [11.9,6000],[12,4500],[12.1,3200],[11.9,2300],[12,1600],[12.1,1100],[12,800],[11.8,600],[12.3,280],[12.8,350],[11.9,5200],[12,3800],[12.1,2700],[11.9,2000],[12,1400],[12.1,950],[12,700],
  [13,3000],[13.5,2000],[14,2500],[14.5,1800],[14.8,245],[14.7,100],[15.3,90],[15.5,2500],
  [15.9,5000],[16,3500],[16.1,2500],[15.9,1800],[16,1300],[16.1,900],[16,650],[16.8,300],[15.9,4200],[16,3000],[16.1,2200],[15.9,1500],[16,1100],[16.1,780],
  [17.3,2500],[18,1800],[18.8,2500],[19.6,2000],[20.5,2800],[21.3,2200],[22,3000],
  [22.8,5000],[23.2,3500],[23.5,2500],[23.8,6000],[24,4000],[23.9,2800],[24.1,1800],[23.7,1200],[24,800],[23.9,400],[23.4,300],[23.5,15],
  [23.8,5000],[24,3500],[23.9,2400],[24.1,1500],[23.7,2000],[24,1000]];
const obs = [obsA1, obsA2, obsA3, obsA4, obsA5, obsA6, obsB1, obsB2, obsB3, obsB4, obsB5, obsB6, obsB7, obsB8, obsB9];

const GREEN = '#2ea62e', GREEN_BAND = '#c9e7b8', MAGENTA = '#d81e62', BLUE = '#2d6bc4';
const GRID_LEFT = 124, COL_W = 260, STRIP_H = 27, M = 75;

Chart.defaults.font.family = 'DejaVu Sans';

function hatch(ctx) {
  const c = document.createElement('canvas');
  c.width = 6; c.height = 6;
  const g = c.getContext('2d');
  g.fillStyle = '#f7dbea'; g.fillRect(0, 0, 6, 6);
  g.strokeStyle = '#e59ec6'; g.lineWidth = 1.2;
  g.beginPath();
  g.moveTo(0, 0); g.lineTo(6, 6);
  g.moveTo(-3, 3); g.lineTo(3, 9);
  g.moveTo(3, -3); g.lineTo(9, 3);
  g.stroke();
  return ctx.createPattern(c, 'repeat');
}

function xAxis(pos, showTicks, showLabels) {
  return {
    type: 'linear', position: pos, min: -0.9, max: 25,
    afterFit: s => { s.height = M; },
    afterBuildTicks: s => { s.ticks = tickHours.map(v => ({value: v})); },
    grid: {display: showTicks, drawOnChartArea: false, tickLength: pos === 'top' ? STRIP_H + 7 : 7, color: '#222', lineWidth: 1},
    border: {display: true, color: '#222', width: 1.6},
    ticks: {display: showLabels, color: '#444', font: {size: 15}, padding: pos === 'top' ? 4 : 7, maxRotation: 0, autoSkip: false}
  };
}

function yAxis(pos, showTicks, showLabels, pl) {
  return {
    type: 'logarithmic', position: pos, min: pl.yMin, max: pl.yMax,
    afterFit: s => { s.width = M; },
    afterBuildTicks: s => { s.ticks = tickConc.map(v => ({value: v})); },
    grid: {display: showTicks, drawOnChartArea: false, tickLength: 7, color: '#222', lineWidth: 1},
    border: {display: true, color: '#222', width: 1.6},
    ticks: {display: showLabels, color: '#444', font: {size: 15}, padding: 7, autoSkip: false,
            callback: v => v === 100000 ? '1e+05' : String(v)}
  };
}

function makePanel(i, pl, row, col) {
  const left = GRID_LEFT + col * COL_W;
  const plotTop = pl.stripTops[row] + STRIP_H;
  const cv = document.createElement('canvas');
  cv.width = COL_W + 2 * M;
  cv.height = pl.plotH + 2 * M;
  cv.style.left = (left - M) + 'px';
  cv.style.top = (plotTop - M) + 'px';
  document.body.appendChild(cv);

  const strip = document.createElement('div');
  strip.className = 'strip';
  strip.textContent = panelLabels[i];
  strip.style.left = left + 'px';
  strip.style.top = pl.stripTops[row] + 'px';
  document.body.appendChild(strip);

  const ctx = cv.getContext('2d');
  const t = binTimes[i];
  const xy = ys => t.map((x, k) => ({x: x, y: ys[k]}));
  const line = (ys, color) => ({data: xy(ys), borderColor: color, borderWidth: 2, pointRadius: 0, fill: false});
  const band = (ys, target, color) => ({data: xy(ys), borderColor: 'rgba(0,0,0,0)', borderWidth: 0, pointRadius: 0,
    fill: target === undefined ? false : target, backgroundColor: color || 'rgba(0,0,0,0)'});
  const leftLabels = (pl.rows - 1 - row) % 2 === 0;
  const lastRow = row === pl.rows - 1;

  // first dataset is drawn last (on top): points, then lines, then bands
  new Chart(ctx, {
    type: 'line',
    data: {
      datasets: [
        {data: obs[i].map(p => ({x: p[0], y: p[1]})), showLine: false, pointRadius: 3.6, pointBorderWidth: 1.2,
         pointBorderColor: BLUE, pointBackgroundColor: 'rgba(0,0,0,0)', borderColor: BLUE},
        line(p95[i], GREEN), line(p05[i], GREEN), line(med[i], MAGENTA),
        band(medLo[i]), band(medHi[i], 4, hatch(ctx)),
        band(p95Lo[i]), band(p95Hi[i], 6, GREEN_BAND),
        band(p05Lo[i]), band(p05Hi[i], 8, GREEN_BAND)
      ]
    },
    options: {
      responsive: false, animation: false, events: [],
      layout: {padding: 0},
      plugins: {legend: {display: false}, tooltip: {enabled: false}},
      scales: {
        x: xAxis('bottom', lastRow, lastRow && col !== 1),
        x2: xAxis('top', row === 0, row === 0 && col === 1),
        y: yAxis('left', col === 0, col === 0 && leftLabels, pl),
        y2: yAxis('right', col === 2, col === 2 && !leftLabels, pl)
      }
    }
  });
}

const plots = [
  {first: 0, rows: 2, stripTops: [86, 360], plotH: 248, yMin: 0.65, yMax: 7.8e5},
  {first: 6, rows: 3, stripTops: [780, 963, 1146], plotH: 157, yMin: 0.68, yMax: 6.6e5}
];
plots.forEach(pl => {
  for (let r = 0; r < pl.rows; r++) {
    for (let c = 0; c < 3; c++) makePanel(pl.first + r * 3 + c, pl, r, c);
  }
});
</script>
</body>
</html>
